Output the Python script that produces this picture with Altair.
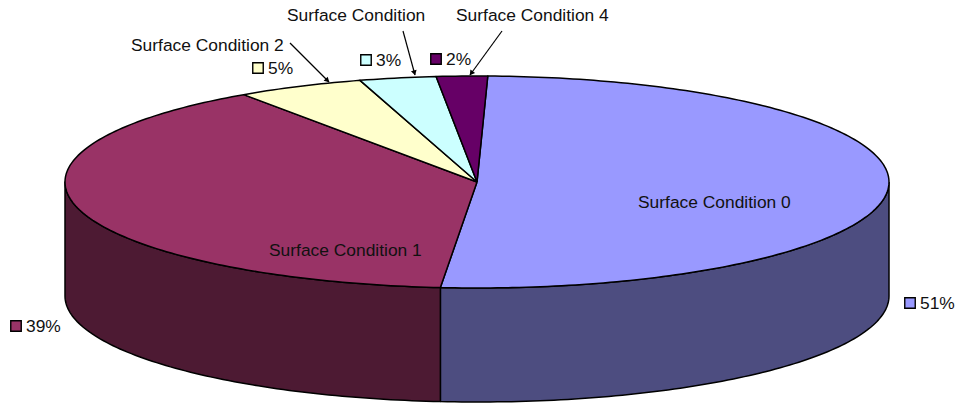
import math

import altair as alt
import pandas as pd

# Slice values in percent, clockwise from twelve o'clock
names = ["Surface Condition 0", "Surface Condition 1", "Surface Condition 2",
         "Surface Condition", "Surface Condition 4"]
values = [51, 39, 5, 3, 2]
top_colors = ["#9999FF", "#993366", "#FFFFCC", "#CCFFFF", "#660066"]
wall_colors = ["#4D4D80", "#4D1A33", "#808066", "#668080", "#330033"]

W, H = 958, 403
CX, CY, RX, RY, DEPTH = 477, 182, 412, 106, 114
FIRST_ANGLE = 1.5
FONT = "Liberation Sans"
FONT_SIZE = 17.4

# Scales put the unit pie at its centre and radii; everything is drawn in unit coordinates
x_scale = alt.Scale(domain=[-CX / RX, (W - CX) / RX], range=[0, W], nice=False, zero=False)
y_scale = alt.Scale(domain=[(CY - H) / RY, CY / RY], range=[H, 0], nice=False, zero=False)
drop = DEPTH / RY


def arc(a0, a1):
    steps = max(2, int(abs(a1 - a0) / 1.0) + 1)
    angles = [a0 + (a1 - a0) * k / steps for k in range(steps + 1)]
    return [(math.sin(math.radians(a)), math.cos(math.radians(a))) for a in angles]


def polygon(points, fill, stroke_width=1.5):
    frame = pd.DataFrame({"u": [p[0] for p in points], "w": [p[1] for p in points],
                          "i": range(len(points))})
    return alt.Chart(frame).mark_line(
        fill=fill, stroke="black", strokeWidth=stroke_width, strokeJoin="round"
    ).encode(
        x=alt.X("u:Q", scale=x_scale, axis=None),
        y=alt.Y("w:Q", scale=y_scale, axis=None),
        order="i:Q",
    )


# Slice boundaries from the values
total = sum(values)
edges = [FIRST_ANGLE]
for v in values:
    edges.append(edges[-1] + v / total * 360)

walls, tops = [], []
for a0, a1, top, wall in zip(edges[:-1], edges[1:], top_colors, wall_colors):
    s0, s1 = max(a0, 90), min(a1, 270)
    if s1 > s0:
        rim = arc(s0, s1)
        outline = rim + [(u, w - drop) for u, w in reversed(rim)] + rim[:1]
        walls.append(polygon(outline, wall))
    tops.append(polygon([(0, 0)] + arc(a0, a1) + [(0, 0)], top))


def label(text, x, y):
    return alt.Chart().mark_text(
        text=text, align="left", baseline="middle", font=FONT, fontSize=FONT_SIZE, color="#111111"
    ).encode(x=alt.value(x), y=alt.value(y))


def key(color, x, y):
    return alt.Chart().mark_square(
        size=110, fill=color, stroke="black", strokeWidth=1.4, opacity=1
    ).encode(x=alt.value(x), y=alt.value(y))


def leader(x0, y0, x1, y1):
    length = math.hypot(x1 - x0, y1 - y0)
    tx, ty = (x1 - x0) / length, (y1 - y0) / length
    line = alt.Chart().mark_rule(color="black", strokeWidth=1.2).encode(
        x=alt.value(x0), y=alt.value(y0), x2=alt.value(x1), y2=alt.value(y1)
    )
    head = alt.Chart().mark_point(
        shape="triangle", size=34, filled=True, color="black", opacity=1,
        angle=math.degrees(math.atan2(tx, -ty)) % 360,
    ).encode(x=alt.value(x1 - 3 * tx), y=alt.value(y1 - 3 * ty))
    return line + head


annotations = [
    label(names[0], 638, 203),
    label(names[1], 269, 251),
    label(names[2], 131, 46),
    label(names[3], 287, 16),
    label(names[4], 456, 16),
    leader(290, 43, 329, 82),
    leader(403, 31, 415, 75),
    leader(502, 31, 470, 75),
]

# Percent labels with their colour keys: (key x, key y) for each slice
key_spots = [(910, 303), (16, 326), (258, 68), (366, 60), (436, 59)]
for v, color, (kx, ky) in zip(values, top_colors, key_spots):
    annotations.append(key(color, kx, ky))
    annotations.append(label(f"{v}%", kx + 10, ky + 1))

chart = alt.layer(*walls, *tops, *annotations).properties(
    width=W, height=H, padding=0, background="white",
    autosize=alt.AutoSizeParams(type="none"),
).configure_view(stroke=None)

chart.save("out.html", embed_options={"renderer": "svg", "actions": False})
